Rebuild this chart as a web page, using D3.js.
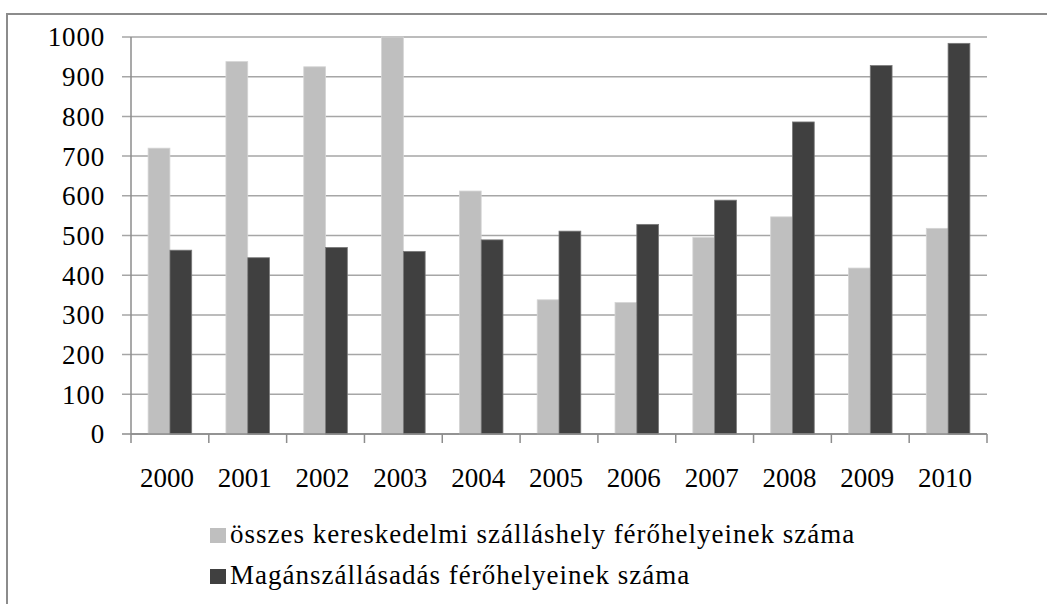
<!DOCTYPE html>
<html>
<head>
<meta charset="utf-8">
<script src="https://cdn.jsdelivr.net/npm/d3@7"></script>
<style>
  body { margin: 0; background: #fff; }
  text { font-family: 'Liberation Serif', 'Times New Roman', Tinos !important; }
</style>
</head>
<body>
<script>
// data
const years = ["2000", "2001", "2002", "2003", "2004", "2005", "2006", "2007", "2008", "2009", "2010"];
const kereskedelmi = [720, 938, 925, 1000, 612, 338, 331, 495, 547, 418, 518];
const maganszallas = [463, 444, 470, 460, 489, 511, 528, 589, 786, 928, 984];
const yTicks = [0, 100, 200, 300, 400, 500, 600, 700, 800, 900, 1000];
const seriesNames = ["összes kereskedelmi szálláshely férőhelyeinek száma", "Magánszállásadás férőhelyeinek száma"];
const seriesColors = ["#bfbfbf", "#404040"];
const seriesStrokes = ["#d4d4d4", "#7a7a7a"];

const width = 1047, height = 604;
const plotLeft = 131, plotRight = 987, plotTop = 37, plotBottom = 434;
const fontName = "Liberation Serif";

const svg = d3.select("body").append("svg")
    .attr("width", width)
    .attr("height", height)
    .attr("font-family", fontName)
    .style("display", "block");

// outer frame (cut off on the right and bottom like the original)
svg.append("rect")
    .attr("x", 7).attr("y", 14)
    .attr("width", 1100).attr("height", 700)
    .attr("fill", "none")
    .attr("stroke", "#8c8c8c")
    .attr("stroke-width", 2);

const x0 = d3.scaleBand()
    .domain(years)
    .range([plotLeft, plotRight])
    .paddingInner(0.44)
    .paddingOuter(0.22);

const x1 = d3.scaleBand()
    .domain([0, 1])
    .range([0, x0.bandwidth()]);

const y = d3.scaleLinear()
    .domain([0, 1000])
    .range([plotBottom, plotTop]);

// gridlines + y ticks
svg.append("g")
    .selectAll("line")
    .data(yTicks)
    .enter().append("line")
    .attr("x1", plotLeft - 9)
    .attr("x2", plotRight)
    .attr("y1", d => y(d))
    .attr("y2", d => y(d))
    .attr("stroke", d => d === 0 ? "#8c8c8c" : "#a6a6a6")
    .attr("stroke-width", 1.5);

svg.append("g")
    .selectAll("text")
    .data(yTicks)
    .enter().append("text")
    .attr("x", 105)
    .attr("y", d => y(d))
    .attr("dy", "0.35em")
    .attr("text-anchor", "end")
    .attr("font-family", fontName)
    .attr("font-size", 27)
    .attr("letter-spacing", 0.8)
    .text(d => d);

// bars
const rows = years.map((yr, i) => ({ year: yr, values: [kereskedelmi[i], maganszallas[i]] }));

const groups = svg.append("g")
    .selectAll("g")
    .data(rows)
    .enter().append("g")
    .attr("transform", d => `translate(${x0(d.year)},0)`);

groups.selectAll("rect")
    .data(d => d.values.map((v, k) => ({ k: k, v: v })))
    .enter().append("rect")
    .attr("x", d => x1(d.k))
    .attr("y", d => y(d.v))
    .attr("width", x1.bandwidth())
    .attr("height", d => y(0) - y(d.v))
    .attr("fill", d => seriesColors[d.k])
    .attr("stroke", d => seriesStrokes[d.k])
    .attr("stroke-width", 0.8);

// y axis line
svg.append("line")
    .attr("x1", plotLeft).attr("x2", plotLeft)
    .attr("y1", plotTop).attr("y2", plotBottom)
    .attr("stroke", "#8c8c8c")
    .attr("stroke-width", 1.5);

// x axis line + ticks at category boundaries
svg.append("line")
    .attr("x1", plotLeft).attr("x2", plotRight)
    .attr("y1", plotBottom).attr("y2", plotBottom)
    .attr("stroke", "#8c8c8c")
    .attr("stroke-width", 1.5);

const step = x0.step();
svg.append("g")
    .selectAll("line")
    .data(d3.range(years.length + 1))
    .enter().append("line")
    .attr("x1", i => plotLeft + i * step)
    .attr("x2", i => plotLeft + i * step)
    .attr("y1", plotBottom)
    .attr("y2", plotBottom + 9)
    .attr("stroke", "#8c8c8c")
    .attr("stroke-width", 1.5);

svg.append("g")
    .selectAll("text")
    .data(years)
    .enter().append("text")
    .attr("x", d => x0(d) + x0.bandwidth() / 2 - 3)
    .attr("y", 487)
    .attr("text-anchor", "middle")
    .attr("font-family", fontName)
    .attr("font-size", 27)
    .text(d => d);

// legend
const legend = svg.append("g")
    .selectAll("g")
    .data(seriesNames)
    .enter().append("g")
    .attr("transform", (d, i) => `translate(210,${543 + i * 41})`);

legend.append("rect")
    .attr("x", 0).attr("y", -15)
    .attr("width", 16).attr("height", 15)
    .attr("fill", (d, i) => seriesColors[i]);

legend.append("text")
    .attr("x", 20)
    .attr("y", 0)
    .attr("font-family", fontName)
    .attr("font-size", 27)
    .attr("letter-spacing", 1)
    .text(d => d);
</script>
</body>
</html>
